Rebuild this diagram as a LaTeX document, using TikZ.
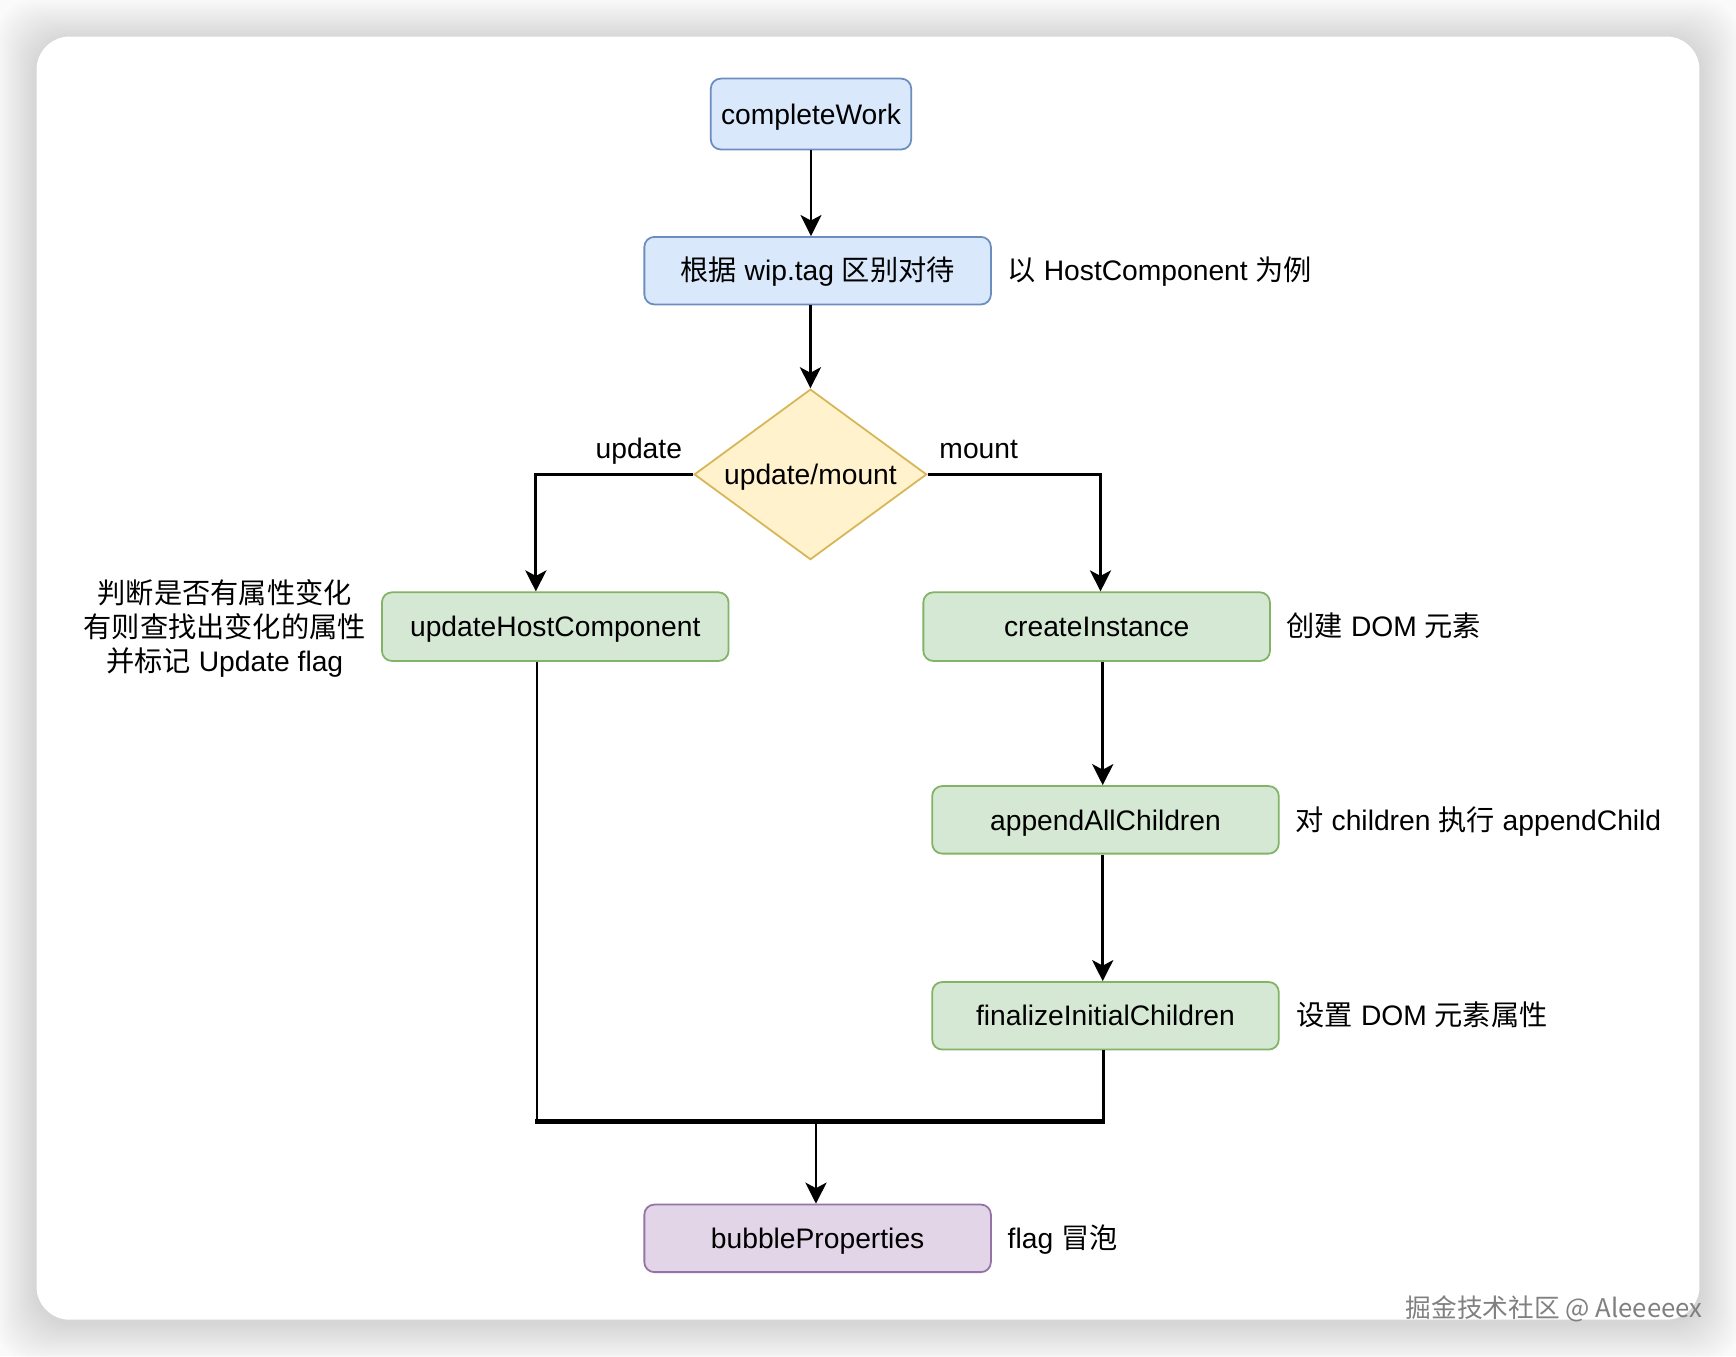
\documentclass[tikz,border=0pt]{standalone}
\usepackage{fontspec}
\setmainfont{Liberation Sans}
\newfontfamily\cjk{Noto Sans CJK SC}
\usetikzlibrary{shapes.geometric,arrows.meta,calc}
\definecolor{bfill}{HTML}{DAE8FC}\definecolor{bdraw}{HTML}{6C8EBF}
\definecolor{yfill}{HTML}{FFF2CC}\definecolor{ydraw}{HTML}{D6B656}
\definecolor{gfill}{HTML}{D5E8D4}\definecolor{gdraw}{HTML}{82B366}
\definecolor{pfill}{HTML}{E1D5E7}\definecolor{pdraw}{HTML}{9673A6}
\definecolor{pagebg}{HTML}{FAFAFA}
\newcommand{\fsz}{\fontsize{12.75}{15.5}\selectfont}
\tikzset{
  fixline/.style={text height=9.4pt, text depth=0.2pt},
  box/.style={rounded corners=4.5pt, minimum width=156.5pt, minimum height=30.5pt, line width=0.8pt, font=\fsz, inner sep=0pt, align=center, fixline},
  bluebox/.style={box, fill=bfill, draw=bdraw},
  greenbox/.style={box, fill=gfill, draw=gdraw},
  purplebox/.style={box, fill=pfill, draw=pdraw},
  decision/.style={diamond, aspect=1.36, fill=yfill, draw=ydraw, line width=0.8pt, minimum width=105pt, minimum height=77pt, inner sep=0pt, font=\fsz, fixline},
  note/.style={font=\fsz, inner sep=0pt, anchor=west, fixline},
  label/.style={font=\fsz, inner sep=0pt, fixline},
  conn/.style={line width=1.3pt},
  arr/.style={conn, -{Stealth[length=9.5pt, width=9.5pt, inset=2.5pt]}},
}
\begin{document}
\begin{tikzpicture}[x=0.5pt, y=-0.5pt]
\useasboundingbox (0,0) rectangle (1568,1225);
\fill[pagebg] (0,0) rectangle (1568,1225);
% card shadow
\foreach \i in {1,...,18}{
  \fill[black, opacity=0.008, rounded corners=17pt] ({33-2*\i},{33-2*\i+3}) rectangle ({1535+2*\i},{1192+2*\i+3});
}
\fill[white, rounded corners=15pt] (33,33) rectangle (1535,1192);

% nodes
\node[bluebox, minimum width=90.5pt, minimum height=32pt] (cw) at (732.5,103) {completeWork};
\node[bluebox] (tag) at (738.5,244.5) {{\cjk 根据} wip.tag {\cjk 区别对待}};
\node[decision] (dm) at (732,428.5) {update/mount};
\node[greenbox, minimum height=31pt] (uhc) at (501.5,566) {updateHostComponent};
\node[greenbox, minimum height=31pt] (ci) at (990.5,566) {createInstance};
\node[greenbox] (aac) at (998.5,740.5) {appendAllChildren};
\node[greenbox] (fic) at (998.5,917.5) {finalizeInitialChildren};
\node[purplebox] (bp) at (738.5,1118.5) {bubbleProperties};

% notes
\node[note] (ntag) at ($(tag.east)+(14,0)$) {{\cjk 以} HostComponent {\cjk 为例}};
\node[label] (lupd) at (577,405) {update};
\node[label] (lmnt) at (884,405) {mount};
\node[font=\fsz, inner sep=0pt, align=center] (nuhc) at (203,567.5) {{\cjk 判断是否有属性变化}\\{\cjk 有则查找出变化的属性}\\{\cjk 并标记} Update flag};
\node[note] (nci) at ($(ci.east)+(14,0)$) {{\cjk 创建} DOM {\cjk 元素}};
\node[note] (naac) at ($(aac.east)+(14,0)$) {{\cjk 对} children {\cjk 执行} appendChild};
\node[note] (nfic) at ($(fic.east)+(15,0)$) {{\cjk 设置} DOM {\cjk 元素属性}};
\node[note] (nbp) at ($(bp.east)+(14,0)$) {flag {\cjk 冒泡}};
\node[font=\cjk\fontsize{11.6}{13}\selectfont, text=black!50, inner sep=0pt, anchor=east] (wm) at (1538,1182) {掘金技术社区 @ Aleeeeex};

% connectors
\draw[arr] (cw.south) -- (cw.south |- tag.north);
\draw[arr] (tag.south -| dm.north) -- (dm.north);
\coordinate (uin) at ($(uhc.north)+(-17.5,0)$);
\coordinate (cin) at ($(ci.north)+(3.5,0)$);
\draw[arr] (dm.west) -| (uin);
\draw[arr] (dm.east) -| (cin);
\draw[arr] ($(ci.south)+(5.5,0)$) -- ($(aac.north)+(-2.5,0)$);
\draw[arr] ($(aac.south)+(-2.5,0)$) -- ($(fic.north)+(-2.5,0)$);
\coordinate (mj) at (737,1013);
\coordinate (uout) at ($(uhc.south)+(-16.5,0)$);
\coordinate (fout) at ($(fic.south)+(-1.5,0)$);
\draw[conn] (uout) -- (uout |- mj);
\draw[conn] (fout) -- (fout |- mj);
\draw[line width=1.9pt] ([xshift=-1pt]uout |- mj) -- ([xshift=0.5pt]fout |- mj);
\draw[arr] (mj) -- (mj |- bp.north);
\end{tikzpicture}
\end{document}
